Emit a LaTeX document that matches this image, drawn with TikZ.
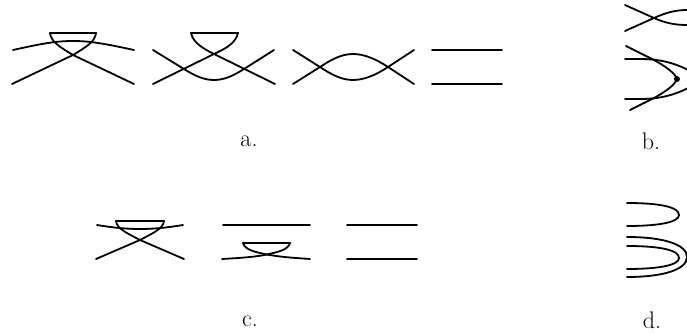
\documentclass[tikz,border=0pt]{standalone}
\begin{document}
\begin{tikzpicture}[x=0.75pt,y=-0.75pt,
  wire/.style={line width=1.35pt,line cap=round,line join=round},
  lab/.style={font=\fontsize{18}{20}\selectfont,inner sep=0pt}]
\useasboundingbox (0,0) rectangle (687,335);
\clip (0,0) rectangle (687,335);
% a1
\draw[wire] (13,50) .. controls (40,44) and (55,41) .. (73,41) .. controls (91,41) and (106,44) .. (134,50);
\draw[wire] (96,33) -- (50,33) .. controls (51,42) and (60,47) .. (73,55) -- (134,84);
\draw[wire] (50,33) -- (96,33) .. controls (95,42) and (86,47) .. (73,55) -- (12,84);
% a2
\draw[wire] (238,33) -- (191,33) .. controls (193,43) and (204,49) .. (214,54) -- (275,84);
\draw[wire] (191,33) -- (238,33) .. controls (236,43) and (225,49) .. (214,54) -- (153,84);
\draw[wire] (153,50) -- (184,69) .. controls (195,76) and (204,80) .. (214,80) .. controls (224,80) and (233,76) .. (244,69) -- (274,50);
% a3
\draw[wire] (293,50) -- (320,67) .. controls (332,75) and (342,80) .. (353,80) .. controls (364,80) and (376,75) .. (388,67) -- (414,50);
\draw[wire] (293,84) -- (320,67) .. controls (332,59) and (342,54) .. (353,54) .. controls (364,54) and (376,59) .. (388,67) -- (414,84);
% a4
\draw[wire] (432,50) -- (502,50) (432,84) -- (502,84);
% b
\draw[wire] (625,5) -- (654,18) .. controls (665,23) and (675,25) .. (687,25);
\draw[wire] (625,31) -- (654,18) .. controls (665,13) and (675,10) .. (687,10);
\draw[wire] (626,46) -- (654,60) .. controls (665,66) and (675,73) .. (677,79) .. controls (675,85) and (665,92) .. (654,98) -- (630,110);
\draw[wire] (625,59) -- (640,59) .. controls (660,59) and (675,63) .. (690,71);
\draw[wire] (625,99) -- (640,99) .. controls (660,99) and (675,95) .. (690,87);
\fill (677,79) circle (3);
% c1
\draw[wire] (97,225) .. controls (115,228) and (128,229) .. (140,229) .. controls (152,229) and (165,228) .. (183,225);
\draw[wire] (164,221) -- (116,221) .. controls (117,229) and (127,233) .. (140,240) -- (184,259);
\draw[wire] (116,221) -- (164,221) .. controls (163,229) and (153,233) .. (140,240) -- (96,259);
% c2
\draw[wire] (223,225) -- (310,225);
\draw[wire] (290,243) -- (243,243) .. controls (245,250) and (255,252) .. (267,254.5) .. controls (280,257) and (295,258) .. (310,259);
\draw[wire] (243,243) -- (290,243) .. controls (288,250) and (278,252) .. (267,254.5) .. controls (255,257) and (240,258) .. (222,259);
% c3
\draw[wire] (347,225) -- (417,225) (347,259) -- (417,259);
% d
\draw[wire] (627,203) .. controls (660,203) and (679,207) .. (679,215) .. controls (679,222) and (660,226) .. (627,226);
\draw[wire] (627,237) .. controls (665,237) and (687,245) .. (687,257) .. controls (687,269) and (665,277) .. (627,277);
\draw[wire] (627,246) .. controls (660,246) and (679,250) .. (679,258) .. controls (679,265) and (660,269) .. (627,269);
% labels
\node[lab] (la) at (249,141) {a.};
\node[lab] (lb) at (651,141) {b.};
\node[lab] (lc) at (250,321) {c.};
\node[lab] (ld) at (652,320) {d.};
\end{tikzpicture}
\end{document}
